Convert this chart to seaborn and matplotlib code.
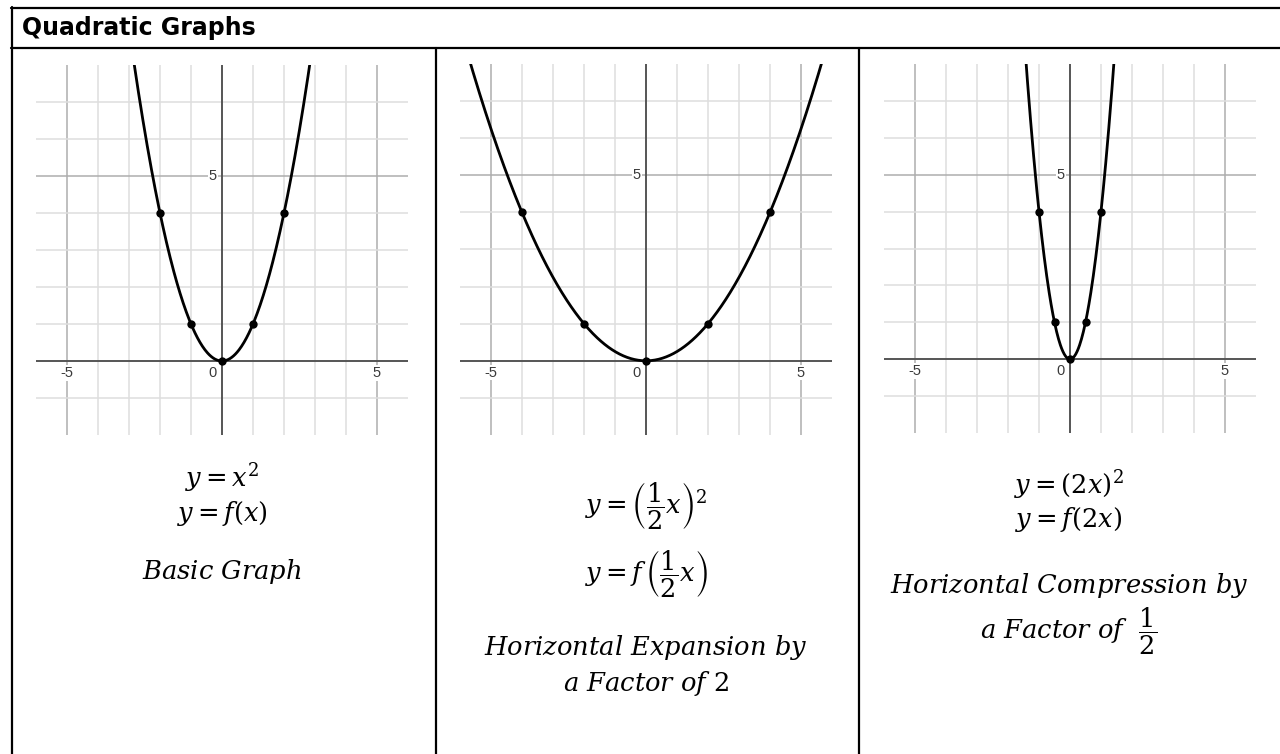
import numpy as np
import matplotlib
matplotlib.use("Agg")
import matplotlib.pyplot as plt
from matplotlib.lines import Line2D
import seaborn as sns

# --- chart content -------------------------------------------------------
title = "Quadratic Graphs"
scale_factors = [1, 0.5, 2]                      # y = (k x)^2
point_x = [
    [-2, -1, 0, 1, 2],
    [-4, -2, 0, 2, 4],
    [-1, -0.5, 0, 0.5, 1],
]
point_y = [4, 1, 0, 1, 4]
x_tick_labels = [-5, 0, 5]
y_tick_labels = [5]
x_range = (-6, 6)
y_range = (-2, 8)

equations = [
    [r"$y = x^2$", r"$y = f(x)$"],
    [r"$y = \left(\dfrac{1}{2}x\right)^{2}$", r"$y = f\,\left(\dfrac{1}{2}x\right)$"],
    [r"$y = (2x)^2$", r"$y = f(2x)$"],
]
descriptions = [
    [r"$Basic\ Graph$"],
    [r"$Horizontal\ Expansion\ by$", r"$a\ Factor\ of\ 2$"],
    [r"$Horizontal\ Compression\ by$", r"$a\ Factor\ of\ \ \dfrac{1}{2}$"],
]

# --- style ---------------------------------------------------------------
sns.set_style("white")
plt.rcParams["font.family"] = ["Liberation Sans", "DejaVu Sans"]
plt.rcParams["mathtext.fontset"] = "dejavuserif"
plt.rcParams["text.color"] = "black"

W, H = 1280, 754
fig = plt.figure(figsize=(W / 100, H / 100), dpi=100)
fig.patch.set_facecolor("white")


def fx(px):
    return px / W


def fy(py):
    return 1 - py / H


def rect(l, t, r, b):
    return [l / W, 1 - b / H, (r - l) / W, (b - t) / H]


# table frame
frame_kw = dict(color="black", lw=1.6, transform=fig.transFigure)
fig.add_artist(Line2D([fx(11), fx(1280)], [fy(7.5), fy(7.5)], **frame_kw))
fig.add_artist(Line2D([fx(11), fx(1280)], [fy(48), fy(48)], **frame_kw))
fig.add_artist(Line2D([fx(12), fx(12)], [fy(7), fy(754)], **frame_kw))
fig.add_artist(Line2D([fx(435.5), fx(435.5)], [fy(48), fy(754)], **frame_kw))
fig.add_artist(Line2D([fx(859), fx(859)], [fy(48), fy(754)], **frame_kw))

fig.text(fx(22), fy(28), title, fontsize=17, fontweight="bold",
         family=["DejaVu Sans"], va="center", ha="left", color="black")

panel_boxes = [(36, 65, 408, 435), (460, 64, 832, 435), (884, 64, 1256, 433)]
col_centers = [222, 646, 1069]

for i, k in enumerate(scale_factors):
    ax = fig.add_axes(rect(*panel_boxes[i]))
    ax.set_xlim(*x_range)
    ax.set_ylim(*y_range)
    for s in ax.spines.values():
        s.set_visible(False)
    ax.set_xticks([])
    ax.set_yticks([])

    # grid: light lines each unit, darker every five units
    for gx in range(x_range[0] + 1, x_range[1]):
        if gx == 0:
            continue
        col = "#adadad" if gx % 5 == 0 else "#dedede"
        ax.axvline(gx, color=col, lw=1.1, zorder=0)
    for gy in range(y_range[0] + 1, y_range[1]):
        if gy == 0:
            continue
        col = "#adadad" if gy % 5 == 0 else "#dedede"
        ax.axhline(gy, color=col, lw=1.1, zorder=0)
    ax.axhline(0, color="#555555", lw=1.4, zorder=1)
    ax.axvline(0, color="#555555", lw=1.4, zorder=1)

    # tick labels next to the axes
    lab_kw = dict(textcoords="offset points", fontsize=10.5, color="#3a3a3a",
                  ha="center", va="center", zorder=2,
                  bbox=dict(boxstyle="square,pad=0.05", fc="white", ec="none"))
    for t in x_tick_labels:
        dx = -6.5 if t == 0 else 0
        ax.annotate(str(t), (t, 0), xytext=(dx, -8.5), **lab_kw)
    for t in y_tick_labels:
        ax.annotate(str(t), (0, t), xytext=(-6.5, 0), **lab_kw)

    # parabola and marked points
    xs = np.linspace(x_range[0], x_range[1], 600)
    ys = (k * xs) ** 2
    sns.lineplot(x=xs, y=ys, ax=ax, color="black", lw=2.0, estimator=None,
                 sort=False, zorder=3)
    sns.scatterplot(x=point_x[i], y=point_y, ax=ax, color="black", s=36,
                    edgecolor="black", linewidth=0, zorder=4)
    ax.set_xlabel("")
    ax.set_ylabel("")

# equations and descriptions
eq_y = [[478, 513], [506, 574], [485, 520]]
desc_y = [[571], [648, 684], [586, 631]]
for i in range(3):
    for txt, yy in zip(equations[i], eq_y[i]):
        fig.text(fx(col_centers[i]), fy(yy), txt, fontsize=18.5, ha="center",
                 va="center")
    for txt, yy in zip(descriptions[i], desc_y[i]):
        fig.text(fx(col_centers[i]), fy(yy), txt, fontsize=18.5, ha="center",
                 va="center")

fig.savefig("out.png", dpi=100, facecolor="white")
